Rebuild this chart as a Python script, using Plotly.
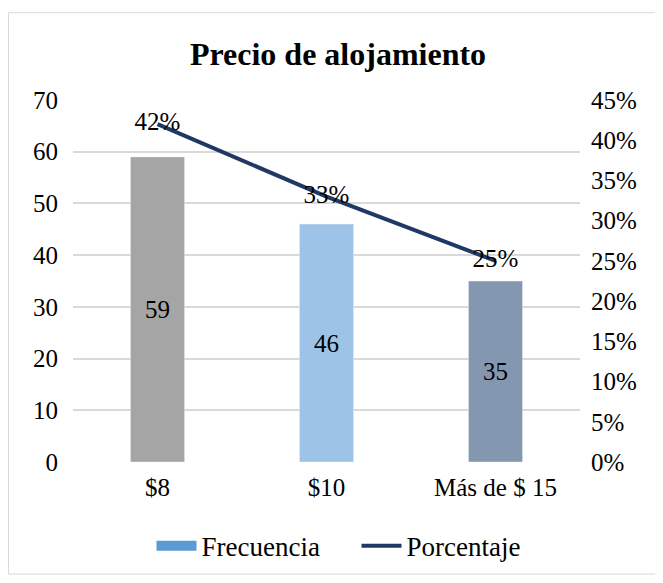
import plotly.graph_objects as go

FONT = "Liberation Serif"

categories = ["$8", "$10", "Más de $ 15"]
frecuencia = [59, 46, 35]
porcentaje = [0.42, 0.33, 0.25]
bar_colors = ["#A5A5A5", "#9DC3E6", "#8497B0"]

# the page body adds an 8px offset, so the figure is 8px smaller
WIDTH = 655
HEIGHT = 575
L, R, T, B = 65, 83, 92, 118
PW = WIDTH - L - R
PH = HEIGHT - T - B

fig = go.Figure()

fig.add_trace(
    go.Bar(
        x=categories,
        y=frecuencia,
        marker_color=bar_colors,
        width=0.32,
        text=frecuencia,
        textposition="inside",
        insidetextanchor="middle",
        textfont=dict(family=FONT, size=25, color="black"),
        showlegend=False,
        name="Frecuencia",
        hoverinfo="skip",
    )
)

# legend entry only (wide swatch like the original)
fig.add_trace(
    go.Scatter(
        x=[None],
        y=[None],
        mode="lines",
        name="Frecuencia",
        line=dict(color="#5B9BD5", width=13),
    )
)

fig.add_trace(
    go.Scatter(
        x=categories,
        y=porcentaje,
        yaxis="y2",
        mode="lines+text",
        line=dict(color="#203864", width=4),
        text=[f"{p:.0%}" for p in porcentaje],
        textposition="middle center",
        textfont=dict(family=FONT, size=25, color="black"),
        name="Porcentaje",
    )
)

# outer border of the chart
fig.add_shape(
    type="rect",
    xref="paper",
    yref="paper",
    x0=(0.5 - L) / PW,
    x1=(649 - L) / PW,
    y0=(HEIGHT - B - 570) / PH,
    y1=(HEIGHT - B - 4) / PH,
    line=dict(color="#D9D9D9", width=1),
    layer="below",
)

fig.update_layout(
    width=WIDTH,
    height=HEIGHT,
    margin=dict(l=L, r=R, t=T, b=B),
    plot_bgcolor="white",
    paper_bgcolor="white",
    font=dict(family=FONT, size=25, color="black"),
    title=dict(
        text="<b>Precio de alojamiento</b>",
        x=330 / WIDTH,
        xanchor="center",
        y=1 - 46 / HEIGHT,
        yanchor="middle",
        font=dict(family=FONT, size=32, color="black"),
    ),
    xaxis=dict(
        showgrid=False,
        showline=False,
        ticks="",
        ticklabelstandoff=8,
        tickfont=dict(family=FONT, size=25),
    ),
    yaxis=dict(
        range=[0, 70],
        dtick=10,
        showgrid=True,
        gridcolor="#D9D9D9",
        gridwidth=1.5,
        zeroline=False,
        ticks="",
        ticklabelstandoff=14,
        tickfont=dict(family=FONT, size=25),
    ),
    yaxis2=dict(
        range=[0, 0.45],
        dtick=0.05,
        tickformat=".0%",
        overlaying="y",
        side="right",
        showgrid=False,
        zeroline=False,
        ticks="",
        ticklabelstandoff=10,
        tickfont=dict(family=FONT, size=25),
    ),
    legend=dict(
        orientation="h",
        x=0.5 + 30 / PW,
        xanchor="center",
        y=(HEIGHT - B - 542) / PH,
        yanchor="middle",
        font=dict(family=FONT, size=27),
        itemwidth=40,
        entrywidth=150,
    ),
)

fig.write_html("out.html")
